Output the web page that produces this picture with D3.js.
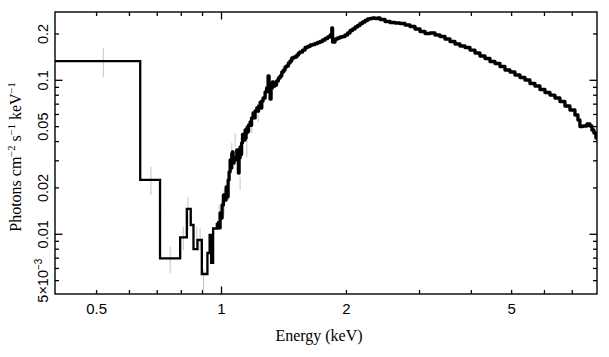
<!DOCTYPE html>
<html><head><meta charset="utf-8">
<script src="https://cdn.jsdelivr.net/npm/d3@7"></script>
<style>body{margin:0;background:#fff} svg{display:block}</style>
</head><body>
<svg id="c" width="609" height="357"></svg>
<script>
// ---- data (bin left edges in keV, flux in photons cm^-2 s^-1 keV^-1) ----
const lowEnergy = [0.39, 0.637, 0.711, 0.795, 0.825, 0.843, 0.856, 0.875, 0.8965, 0.9248, 0.9361, 0.9440, 0.9545, 0.9743];
const lowFlux   = [0.1334, 0.02254, 0.00698, 0.00956, 0.0146, 0.01149, 0.0080, 0.00918, 0.00552, 0.00756, 0.0099, 0.00652, 0.0109, 0.01184];

const specEnergy = [
 0.9743, 0.9841, 0.9923, 1.0006, 1.0033, 1.0106, 1.0173, 1.0258, 1.0315, 1.0345,
 1.0373, 1.0430, 1.0489, 1.0547, 1.0585, 1.0623, 1.0664, 1.0723, 1.0783, 1.0885,
 1.0934, 1.0982, 1.1025, 1.1087, 1.1130, 1.1179, 1.1235, 1.1291, 1.1335, 1.1398,
 1.1430, 1.1461, 1.1525, 1.1570, 1.1621, 1.1718, 1.1765, 1.1816, 1.1915, 1.1980,
 1.2048, 1.2162, 1.2220, 1.2284, 1.2390, 1.2450, 1.2504, 1.2594, 1.2735, 1.2841,
 1.2948, 1.3020, 1.3092, 1.3165, 1.3260, 1.3349, 1.3460, 1.3573, 1.3709, 1.3839,
 1.3970, 1.4111, 1.4228, 1.4347, 1.4491, 1.4628, 1.4767, 1.4957, 1.5182, 1.5335,
 1.5463, 1.5679, 1.5898, 1.6120, 1.6345, 1.6573, 1.6805, 1.7040, 1.7278, 1.7519,
 1.7764, 1.8012, 1.8263, 1.8436, 1.8518, 1.8776, 1.9039, 1.9304, 1.9574, 1.9847,
 2.0122, 2.0403, 2.0688, 2.0977, 2.1270, 2.1567, 2.1868, 2.2173, 2.2483, 2.2797,
 2.3115, 2.3438, 2.3765, 2.4097, 2.4774, 2.5471, 2.6187, 2.6923, 2.7680, 2.8458,
 2.9258, 3.0080, 3.0926, 3.1795, 3.2689, 3.3608, 3.4553, 3.5524, 3.6523, 3.7549,
 3.8605, 3.9690, 4.0806, 4.1953, 4.3133, 4.4345, 4.5592, 4.6873, 4.8191, 4.9546,
 5.0938, 5.2370, 5.3843, 5.5356, 5.6912, 5.8512, 6.0157, 6.1848, 6.3587, 6.5375,
 6.7212, 6.9102, 7.1044, 7.2237, 7.3043, 7.4269, 7.5935, 7.7209, 7.8070, 7.8941,
 7.9823, 8.0266];
const specFlux = [
 0.01184, 0.01099, 0.01375, 0.01276, 0.01550, 0.01800, 0.01670, 0.02028, 0.01882, 0.01750,
 0.02252, 0.02538, 0.03038, 0.02695, 0.03350, 0.03423, 0.02904, 0.03129, 0.03038, 0.03527,
 0.03224, 0.02500, 0.03129, 0.03689, 0.03300, 0.03916, 0.04450, 0.04283, 0.04095, 0.04755,
 0.04200, 0.04547, 0.04972, 0.04650, 0.05124, 0.05359, 0.05100, 0.05690, 0.06133, 0.05700,
 0.06319, 0.06609, 0.06300, 0.06810, 0.07200, 0.06600, 0.07336, 0.07674, 0.08395, 0.08913,
 0.10665, 0.08395, 0.07560, 0.08913, 0.09748, 0.09183, 0.09321, 0.09895, 0.10349, 0.10665,
 0.11323, 0.11667, 0.12201, 0.12385, 0.12951, 0.13345, 0.13956, 0.14167, 0.14594, 0.15037,
 0.15264, 0.15724, 0.16331, 0.16576, 0.16950, 0.17077, 0.17334, 0.17596, 0.17861, 0.18268,
 0.18682, 0.19105, 0.19686, 0.21859, 0.17728, 0.18543, 0.18820, 0.19105, 0.19248, 0.19686,
 0.20284, 0.21055, 0.21535, 0.22190, 0.22692, 0.23381, 0.23910, 0.24454, 0.25003, 0.25192,
 0.25380, 0.25192, 0.25380, 0.24818, 0.24088, 0.23732, 0.23555, 0.23381, 0.22862, 0.22355,
 0.21535, 0.20743, 0.20133, 0.20284, 0.19686, 0.19248, 0.18543, 0.17861, 0.17205, 0.16697,
 0.16331, 0.15724, 0.15037, 0.14382, 0.13851, 0.13244, 0.12853, 0.12293, 0.11667, 0.11323,
 0.10826, 0.10427, 0.10044, 0.09532, 0.09183, 0.08714, 0.08330, 0.08023, 0.07674, 0.07282,
 0.06810, 0.06414, 0.05951, 0.05525, 0.05012, 0.05049, 0.05202, 0.05049, 0.04755, 0.04547,
 0.04219, 0.04412];

const errEnergy = [0.519, 0.676, 0.752, 0.809, 0.830, 0.872, 0.888, 0.905, 0.9868, 1.0145, 1.0390, 1.0588, 1.0783, 1.1087, 1.1506, 1.1836, 1.2249, 1.2804];
const errLow    = [0.105, 0.0180, 0.00558, 0.0079, 0.01066, 0.00878, 0.0079, 0.00435, 0.01066, 0.01334, 0.0167, 0.0304, 0.0369, 0.0194, 0.03176, 0.04547, 0.05359, 0.07447];
const errHigh   = [0.162, 0.0275, 0.00831, 0.0112, 0.01754, 0.0112, 0.01099, 0.00586, 0.0155, 0.0194, 0.0211, 0.0392, 0.0455, 0.02356, 0.04095, 0.05124, 0.06414, 0.09321];

const xLabelTicks = [0.5, 1, 2, 5];
const xMajorTicks = [1];
const xMinorTicks = [0.5, 0.6, 0.7, 0.8, 0.9, 2, 3, 4, 5, 6, 7];
const yLabelTicks = [0.2, 0.1, 0.05, 0.02, 0.01, 0.005];
const yMajorTicks = [0.1, 0.01];
const yMinorTicks = [0.2, 0.09, 0.08, 0.07, 0.06, 0.05, 0.04, 0.03, 0.02, 0.009, 0.008, 0.007, 0.006, 0.005];

// ---- layout ----
const L = 55, R = 597, T = 12, B = 294;
const svg = d3.select("#c");
const x = d3.scaleLog().domain([0.397, 8.03]).range([L, R]);
const y = d3.scaleLog().domain([0.004094, 0.2777]).range([B, T]);

svg.append("defs").append("clipPath").attr("id", "clip")
  .append("rect").attr("x", L).attr("y", T).attr("width", R - L).attr("height", B - T);

// error bars
const eb = svg.append("g").attr("clip-path", "url(#clip)");
errEnergy.forEach((e, i) => {
  eb.append("line").attr("x1", x(e)).attr("x2", x(e))
    .attr("y1", y(errLow[i])).attr("y2", y(errHigh[i]))
    .attr("stroke", "#c4c4c4").attr("stroke-width", 1);
});

const line = d3.line().x(d => x(d[0])).y(d => y(d[1])).curve(d3.curveStepAfter);

// wide low-energy bins
const lowPts = lowEnergy.map((e, i) => [e, lowFlux[i]]);
svg.append("path").datum(lowPts).attr("clip-path", "url(#clip)")
  .attr("d", line).attr("fill", "none").attr("stroke", "#000")
  .attr("stroke-width", 2.3);

// dense spectrum
const specPts = specEnergy.map((e, i) => [e, specFlux[i]]);
specPts.push([8.1, specFlux[specFlux.length - 1]]);
svg.append("path").datum(specPts).attr("clip-path", "url(#clip)")
  .attr("d", line).attr("fill", "none").attr("stroke", "#000")
  .attr("stroke-width", 3.3).attr("stroke-linejoin", "round");

// frame
svg.append("rect").attr("x", L).attr("y", T).attr("width", R - L).attr("height", B - T)
  .attr("fill", "none").attr("stroke", "#000").attr("stroke-width", 1.4);

// ticks (inside, all four sides)
const tg = svg.append("g").attr("stroke", "#000").attr("stroke-width", 1.3);
function xt(v, len) {
  tg.append("line").attr("x1", x(v)).attr("x2", x(v)).attr("y1", B).attr("y2", B - len);
  tg.append("line").attr("x1", x(v)).attr("x2", x(v)).attr("y1", T).attr("y2", T + len);
}
function yt(v, len) {
  tg.append("line").attr("y1", y(v)).attr("y2", y(v)).attr("x1", L).attr("x2", L + len);
  tg.append("line").attr("y1", y(v)).attr("y2", y(v)).attr("x1", R).attr("x2", R - len);
}
xMinorTicks.forEach(v => xt(v, 4));
xMajorTicks.forEach(v => xt(v, 7.5));
yMinorTicks.forEach(v => yt(v, 4));
yMajorTicks.forEach(v => yt(v, 7.5));

// tick labels
const sans = "'Liberation Sans', Arial, Helvetica, sans-serif";
const serif = "'Liberation Serif', 'Times New Roman', serif";
xLabelTicks.forEach(v => {
  svg.append("text").attr("x", x(v)).attr("y", 314)
    .attr("text-anchor", "middle").attr("font-family", sans).attr("font-size", 15)
    .text(v);
});
yLabelTicks.forEach(v => {
  const t = svg.append("text")
    .attr("transform", `translate(47.5,${y(v)}) rotate(-90)`)
    .attr("text-anchor", "middle").attr("font-family", sans).attr("font-size", 14.5);
  if (v === 0.005) {
    t.append("tspan").text("5×10");
    t.append("tspan").attr("dy", -6).attr("font-size", 10).text("−3");
  } else {
    t.text(v);
  }
});

// axis titles
svg.append("text").attr("x", 319).attr("y", 341)
  .attr("text-anchor", "middle").attr("font-family", serif).attr("font-size", 16)
  .text("Energy (keV)");

const yt2 = svg.append("text")
  .attr("transform", "translate(21,157) rotate(-90)")
  .attr("text-anchor", "middle").attr("font-family", serif).attr("font-size", 16);
yt2.append("tspan").text("Photons cm");
yt2.append("tspan").attr("dy", -6).attr("font-size", 10.5).text("−2");
yt2.append("tspan").attr("dy", 6).text(" s");
yt2.append("tspan").attr("dy", -6).attr("font-size", 10.5).text("−1");
yt2.append("tspan").attr("dy", 6).text(" keV");
yt2.append("tspan").attr("dy", -6).attr("font-size", 10.5).text("−1");
</script>
</body></html>
